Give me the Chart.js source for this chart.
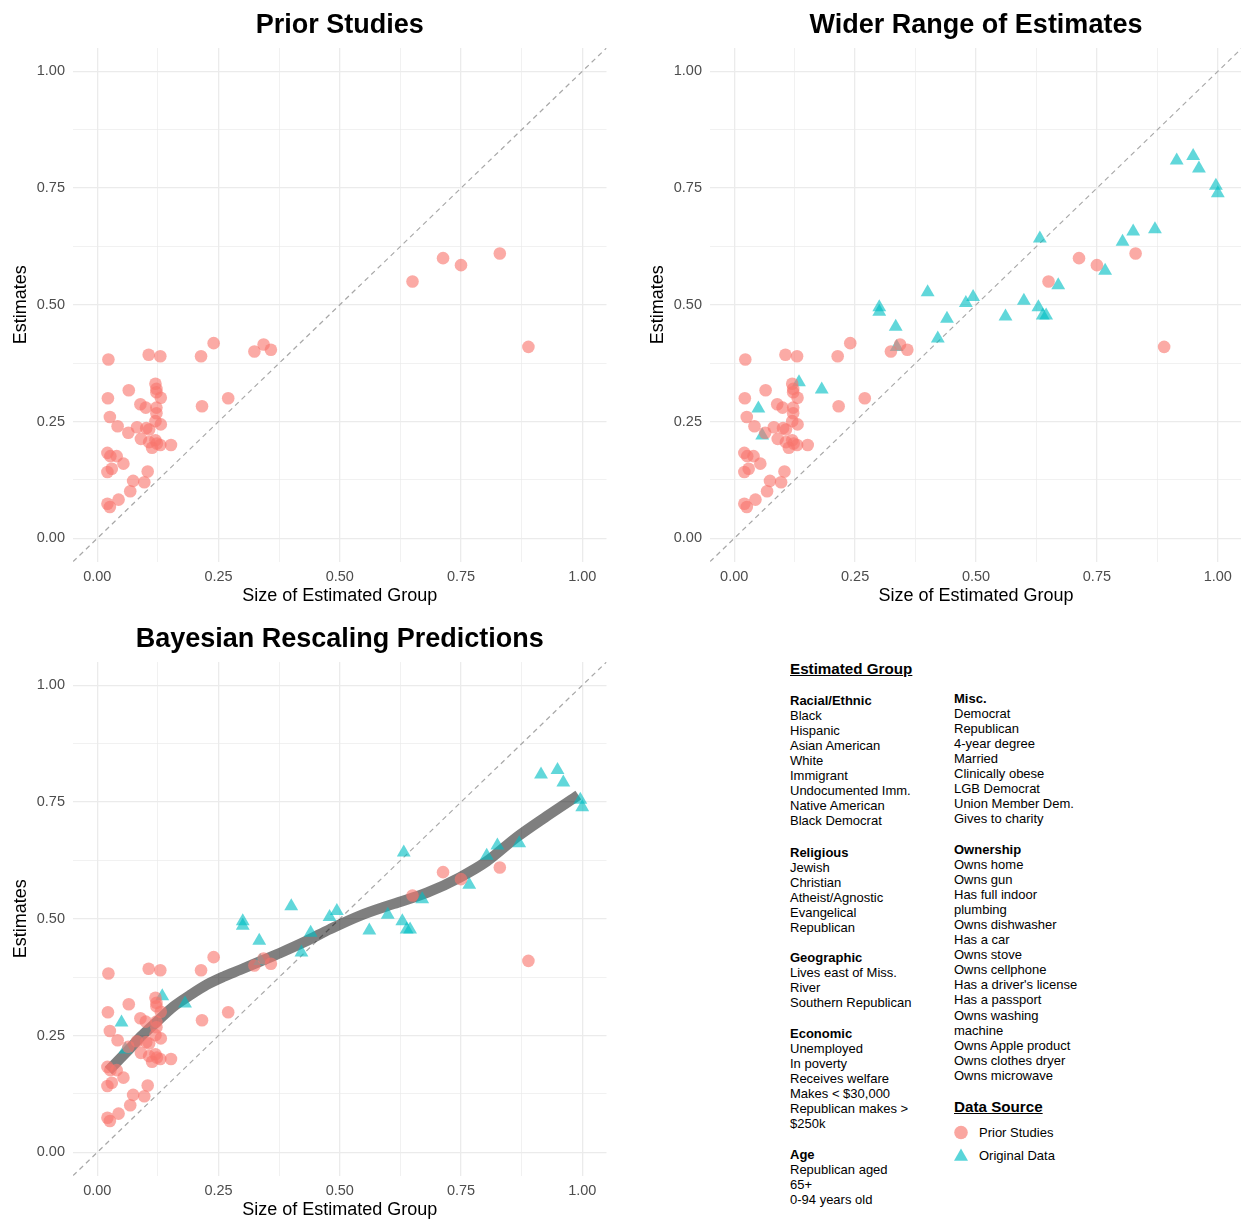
<!DOCTYPE html>
<html>
<head>
<meta charset="utf-8">
<script src="https://cdn.jsdelivr.net/npm/chart.js@4.4.1/dist/chart.umd.min.js"></script>
<style>
html, body { margin: 0; padding: 0; background: #fff; }
body { width: 1241px; height: 1219px; overflow: hidden; position: relative; font-family: "Liberation Sans", Arial, sans-serif; color: #000; }
canvas { position: absolute; }
#c1 { left: 0; top: 0; }
#c2 { left: 637px; top: 0; }
#c3 { left: 0; top: 614px; }
.head { position: absolute; font-size: 15.2px; line-height: 18px; font-weight: bold; text-decoration: underline; white-space: nowrap; }
.grp { position: absolute; font-size: 13px; line-height: 15.1px; white-space: nowrap; }
.grp b { display: block; }
.key { position: absolute; left: 954px; font-size: 13px; line-height: 15px; white-space: nowrap; }
.key svg { position: absolute; left: 0; top: -1px; }
.key span { position: absolute; left: 25px; top: 0; }
</style>
</head>
<body>
<canvas id="c1" width="620" height="615"></canvas>
<canvas id="c2" width="620" height="615"></canvas>
<canvas id="c3" width="620" height="615"></canvas>

<div class="head" style="left:790px; top:660px;">Estimated Group</div>

<div class="grp" style="left:790px; top:692.5px;">
<b>Racial/Ethnic</b>Black<br>Hispanic<br>Asian American<br>White<br>Immigrant<br>Undocumented Imm.<br>Native American<br>Black Democrat
</div>
<div class="grp" style="left:790px; top:844.5px;">
<b>Religious</b>Jewish<br>Christian<br>Atheist/Agnostic<br>Evangelical<br>Republican
</div>
<div class="grp" style="left:790px; top:949.5px;">
<b>Geographic</b>Lives east of Miss.<br>River<br>Southern Republican
</div>
<div class="grp" style="left:790px; top:1025.5px;">
<b>Economic</b>Unemployed<br>In poverty<br>Receives welfare<br>Makes &lt; $30,000<br>Republican makes &gt;<br>$250k
</div>
<div class="grp" style="left:790px; top:1146.5px;">
<b>Age</b>Republican aged<br>65+<br>0-94 years old
</div>

<div class="grp" style="left:954px; top:690.5px;">
<b>Misc.</b>Democrat<br>Republican<br>4-year degree<br>Married<br>Clinically obese<br>LGB Democrat<br>Union Member Dem.<br>Gives to charity
</div>
<div class="grp" style="left:954px; top:841.5px;">
<b>Ownership</b>Owns home<br>Owns gun<br>Has full indoor<br>plumbing<br>Owns dishwasher<br>Has a car<br>Owns stove<br>Owns cellphone<br>Has a driver's license<br>Has a passport<br>Owns washing<br>machine<br>Owns Apple product<br>Owns clothes dryer<br>Owns microwave
</div>

<div class="head" style="left:954px; top:1098px;">Data Source</div>
<div class="key" style="top:1124.5px;">
<svg width="16" height="16"><circle cx="7" cy="8.5" r="6.8" fill="rgba(248,118,109,0.65)"/></svg>
<span>Prior Studies</span>
</div>
<div class="key" style="top:1147.5px;">
<svg width="16" height="16"><polygon points="7,1.5 14,13.8 0,13.8" fill="rgba(0,191,196,0.65)"/></svg>
<span>Original Data</span>
</div>

<script>
// -------------------------------
// DATA
// -------------------------------
const priorX = [0.023, 0.106, 0.130, 0.214, 0.240, 0.324, 0.343, 0.358, 0.065, 0.120,
                0.122, 0.122, 0.022, 0.131, 0.089, 0.100, 0.122, 0.122, 0.216, 0.270,
                0.026, 0.042, 0.064, 0.082, 0.101, 0.107, 0.120, 0.131, 0.090, 0.107,
                0.120, 0.123, 0.130, 0.113, 0.152, 0.021, 0.027, 0.040, 0.054, 0.021,
                0.030, 0.104, 0.074, 0.097, 0.068, 0.044, 0.021, 0.026, 0.650, 0.713,
                0.750, 0.830, 0.889];
const priorY = [0.383, 0.393, 0.390, 0.390, 0.418, 0.400, 0.415, 0.404, 0.317, 0.331,
                0.320, 0.313, 0.300, 0.301, 0.287, 0.280, 0.280, 0.268, 0.283, 0.300,
                0.260, 0.240, 0.226, 0.238, 0.236, 0.233, 0.251, 0.244, 0.213, 0.206,
                0.210, 0.203, 0.200, 0.194, 0.200, 0.183, 0.176, 0.176, 0.160, 0.142,
                0.149, 0.143, 0.123, 0.120, 0.101, 0.083, 0.074, 0.067, 0.550, 0.600,
                0.585, 0.610, 0.410];

const origX = [0.050, 0.058, 0.134, 0.181, 0.300, 0.300, 0.334, 0.336, 0.400, 0.421,
               0.440, 0.479, 0.494, 0.561, 0.599, 0.629, 0.638, 0.645, 0.632, 0.670,
               0.767, 0.803, 0.825, 0.870, 0.915, 0.949, 0.961, 0.996, 1.000];
const origY = [0.278, 0.220, 0.334, 0.319, 0.495, 0.485, 0.453, 0.410, 0.527, 0.428,
               0.470, 0.504, 0.517, 0.475, 0.509, 0.495, 0.477, 0.477, 0.642, 0.542,
               0.573, 0.635, 0.657, 0.662, 0.809, 0.819, 0.792, 0.755, 0.739];

const smoothX = [0.023, 0.068, 0.089, 0.123, 0.157, 0.192, 0.226, 0.260, 0.295, 0.336,
                 0.377, 0.430, 0.480, 0.542, 0.611, 0.680, 0.748, 0.803, 0.865, 0.927,
                 0.992];
const smoothY = [0.175, 0.223, 0.247, 0.280, 0.312, 0.337, 0.359, 0.376, 0.391, 0.409,
                 0.427, 0.452, 0.478, 0.507, 0.532, 0.556, 0.589, 0.623, 0.675, 0.720,
                 0.765];

const diagX = [-0.05, 1.05];
const diagY = [-0.05, 1.05];

const gridValues = [0, 0.125, 0.25, 0.375, 0.5, 0.625, 0.75, 0.875, 1];
const majorValues = [0, 0.25, 0.5, 0.75, 1];
const majorLabels = ["0.00", "0.25", "0.50", "0.75", "1.00"];

// -------------------------------
// HELPERS
// -------------------------------
Chart.defaults.font.family = '"Liberation Sans", Arial, sans-serif';

const pts = (xs, ys) => xs.map((x, i) => ({ x: x, y: ys[i] }));

function axis(title, isX) {
    return {
        type: "linear",
        min: -0.05,
        max: 1.05,
        afterBuildTicks: s => { s.ticks = gridValues.map(v => ({ value: v })); },
        afterFit: s => { if (isX) s.height = 53.3; else s.width = 73; },
        border: { display: false },
        grid: {
            color: "#EBEBEB",
            drawTicks: false,
            lineWidth: c => (c.tick && majorValues.includes(c.tick.value) ? 1.3 : 0.7)
        },
        ticks: {
            autoSkip: false,
            maxRotation: 0,
            padding: isX ? 7 : 8,
            color: "#4D4D4D",
            font: { size: 14.5 },
            callback: v => {
                let i = majorValues.indexOf(v);
                return i >= 0 ? majorLabels[i] : "";
            }
        },
        title: {
            display: true,
            text: title,
            color: "#000",
            font: { size: 18 },
            padding: isX ? { top: 0, bottom: 8.2 } : { top: 10.5, bottom: 0 }
        }
    };
}

function priorSet() {
    return {
        label: "Prior Studies",
        data: pts(priorX, priorY),
        pointStyle: "circle",
        pointRadius: 6.3,
        pointBackgroundColor: "rgba(248,118,109,0.62)",
        pointBorderWidth: 0,
        borderColor: "transparent",
        order: 1
    };
}

function origSet() {
    return {
        label: "Original Data",
        data: pts(origX, origY),
        pointStyle: "triangle",
        pointRadius: 8,
        pointBackgroundColor: "rgba(0,191,196,0.62)",
        pointBorderWidth: 0,
        borderColor: "transparent",
        order: 2
    };
}

function diagSet() {
    return {
        label: "y = x",
        data: pts(diagX, diagY),
        showLine: true,
        pointRadius: 0,
        borderColor: "#A8A8A8",
        borderWidth: 1.2,
        borderDash: [5, 4],
        order: 4
    };
}

function smoothSet() {
    return {
        label: "Rescaled",
        data: pts(smoothX, smoothY),
        showLine: true,
        pointRadius: 0,
        borderColor: "rgba(0,0,0,0.5)",
        borderWidth: 10.5,
        borderCapStyle: "butt",
        borderJoinStyle: "round",
        cubicInterpolationMode: "monotone",
        order: 3
    };
}

function makePanel(id, title, datasets, padRight) {
    return new Chart(document.getElementById(id), {
        type: "scatter",
        data: { datasets: datasets },
        options: {
            responsive: false,
            animation: false,
            layout: { padding: { left: 0, right: padRight, top: 0, bottom: 0 } },
            scales: {
                x: axis("Size of Estimated Group", true),
                y: axis("Estimates", false)
            },
            plugins: {
                legend: { display: false },
                tooltip: { enabled: false },
                title: {
                    display: true,
                    text: title,
                    color: "#000",
                    fullSize: false,
                    font: { size: 27, weight: "bold" },
                    padding: { top: 9.8, bottom: 5.8 }
                }
            }
        }
    });
}

// -------------------------------
// PANELS
// -------------------------------
makePanel("c1", "Prior Studies", [priorSet(), diagSet()], 13.5);
makePanel("c2", "Wider Range of Estimates", [priorSet(), origSet(), diagSet()], 15);
makePanel("c3", "Bayesian Rescaling Predictions", [priorSet(), origSet(), smoothSet(), diagSet()], 13.5);
</script>
</body>
</html>
